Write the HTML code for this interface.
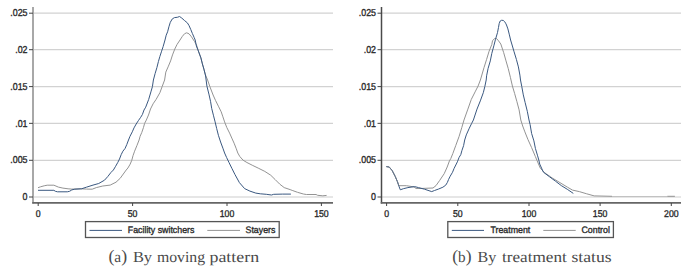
<!DOCTYPE html>
<html><head><meta charset="utf-8"><style>
html,body{margin:0;padding:0;background:#fff;}
body{width:685px;height:268px;overflow:hidden;}
svg{display:block;text-rendering:geometricPrecision;}
svg text{font-family:"Liberation Sans",sans-serif;font-size:10.0px;fill:#2a2a2a;stroke:#2a2a2a;stroke-width:0.35px;}
svg text.cap{font-family:"Liberation Serif",serif;font-size:15.4px;fill:#4a4a4a;stroke:none;}
svg text.cap tspan.par{font-size:17.8px;}
</style></head><body>
<svg width="685" height="268" viewBox="0 0 685 268">
<rect width="685" height="268" fill="#fff"/>
<line x1="33" y1="13.2" x2="333" y2="13.2" stroke="#d2d2d2" stroke-width="1.2"/>
<line x1="33" y1="49.7" x2="333" y2="49.7" stroke="#d2d2d2" stroke-width="1.2"/>
<line x1="33" y1="86.6" x2="333" y2="86.6" stroke="#d2d2d2" stroke-width="1.2"/>
<line x1="33" y1="123.35" x2="333" y2="123.35" stroke="#d2d2d2" stroke-width="1.2"/>
<line x1="33" y1="160.3" x2="333" y2="160.3" stroke="#d2d2d2" stroke-width="1.2"/>
<line x1="33" y1="197.0" x2="333" y2="197.0" stroke="#e6e6e6" stroke-width="2"/>
<polyline points="38.0,187.7 40.5,186.8 44.2,185.8 47.2,185.2 53.9,185.2 58.4,187.1 62.9,188.1 68.1,188.8 71.8,189.1 80.7,188.8 86.7,189.1 92.2,189.2 96.3,187.6 102.8,186.0 110.2,185.1 116.0,182.2 120.2,178.3 126.2,170.0 127.9,168.0 130.2,164.1 131.8,160.2 133.0,155.7 134.6,151.2 136.9,145.6 139.1,140.0 140.1,136.3 141.8,132.4 143.5,127.4 144.6,123.4 146.3,120.1 148.5,115.0 150.5,109.0 153.1,103.8 156.1,99.4 159.9,92.7 162.1,86.7 164.6,80.0 165.8,72.1 168.1,66.9 170.6,60.9 172.5,54.9 174.8,49.0 177.0,44.5 180.0,40.0 182.4,36.3 184.6,33.7 186.7,32.8 189.0,33.8 191.5,36.8 194.5,41.5 196.5,45.0 198.7,51.9 200.9,57.9 202.4,63.9 203.9,69.1 205.5,75.0 207.6,80.0 209.9,86.7 213.1,95.0 215.6,100.6 218.4,106.2 221.2,111.8 222.9,116.8 224.6,121.9 226.8,127.5 229.6,133.1 231.8,138.1 234.1,143.2 236.3,148.8 237.8,153.0 239.8,156.5 243.1,160.2 246.9,162.5 252.8,165.5 258.8,168.4 264.8,171.4 270.7,175.2 275.2,179.6 279.7,184.1 284.2,187.6 290.1,189.6 292.2,190.4 297.5,192.3 303.4,194.0 306.4,194.5 316.1,194.5 317.6,195.3 322.8,195.8 326.6,195.4" fill="none" stroke="#939393" stroke-width="1.0" stroke-linejoin="round"/>

<polyline points="38.0,190.3 53.9,190.3 55.4,191.3 57.6,191.8 67.3,191.8 69.6,191.3 71.8,189.9 74.8,189.2 81.5,188.8 86.4,187.2 93.0,185.1 98.7,183.5 104.5,180.2 107.8,176.5 111.0,172.4 113.4,170.0 115.6,166.3 117.8,162.4 119.5,159.0 121.2,154.6 122.9,151.2 125.1,148.4 126.8,144.5 128.5,140.0 130.0,136.3 132.3,131.8 134.0,127.9 136.2,124.0 138.4,120.6 140.7,117.3 142.4,114.5 144.0,110.0 145.7,107.2 148.7,99.4 150.9,91.9 152.4,86.7 153.4,80.0 155.1,73.6 156.9,67.6 158.4,61.6 159.9,56.4 161.6,51.2 163.1,46.7 165.0,40.0 166.2,35.2 167.6,31.8 168.9,26.8 170.3,22.3 172.3,18.9 174.5,17.6 177.3,17.3 179.6,16.5 181.8,18.1 184.6,20.6 187.4,22.9 189.1,25.7 190.8,29.6 192.4,33.5 194.1,37.4 195.2,40.0 196.4,46.0 198.7,51.9 200.9,57.9 202.4,63.9 203.9,69.1 205.6,76.0 206.9,86.0 209.1,94.9 210.6,101.7 211.7,108.4 213.4,115.2 215.1,121.9 216.7,128.6 218.4,135.3 220.6,142.0 222.9,148.2 224.6,153.0 226.6,157.5 229.0,162.5 231.9,168.4 234.9,174.4 239.4,182.6 244.6,188.6 249.9,191.1 255.8,193.1 260.3,193.8 266.3,194.3 271.5,195.0 273.7,194.3 282.7,194.1 290.9,194.1" fill="none" stroke="#3a5880" stroke-width="1.0" stroke-linejoin="round"/>

<line x1="33" y1="7" x2="33" y2="203.5" stroke="#a8a8a8" stroke-width="2"/>
<line x1="32.25" y1="202.9" x2="333" y2="202.9" stroke="#666" stroke-width="1.8"/>
<line x1="29" y1="13.2" x2="33" y2="13.2" stroke="#444" stroke-width="1"/>
<text transform="translate(27.50,16.10) scale(0.885,1)" text-anchor="end">.025</text>
<line x1="29" y1="49.7" x2="33" y2="49.7" stroke="#444" stroke-width="1"/>
<text transform="translate(27.50,53.30) scale(0.885,1)" text-anchor="end">.02</text>
<line x1="29" y1="86.6" x2="33" y2="86.6" stroke="#444" stroke-width="1"/>
<text transform="translate(27.50,90.00) scale(0.885,1)" text-anchor="end">.015</text>
<line x1="29" y1="123.35" x2="33" y2="123.35" stroke="#444" stroke-width="1"/>
<text transform="translate(27.50,126.95) scale(0.885,1)" text-anchor="end">.01</text>
<line x1="29" y1="160.3" x2="33" y2="160.3" stroke="#444" stroke-width="1"/>
<text transform="translate(27.50,163.20) scale(0.885,1)" text-anchor="end">.005</text>
<line x1="29" y1="197.0" x2="33" y2="197.0" stroke="#444" stroke-width="1"/>
<text transform="translate(27.50,200.10) scale(0.885,1)" text-anchor="end">0</text>
<line x1="38.2" y1="203" x2="38.2" y2="206" stroke="#444" stroke-width="1"/>
<text transform="translate(38.20,216.60) scale(0.89,1)" text-anchor="middle" style="font-size:9.8px">0</text>
<line x1="132.6" y1="203" x2="132.6" y2="206" stroke="#444" stroke-width="1"/>
<text transform="translate(132.60,216.60) scale(0.89,1)" text-anchor="middle" style="font-size:9.8px">50</text>
<line x1="227" y1="203" x2="227" y2="206" stroke="#444" stroke-width="1"/>
<text transform="translate(227.00,216.60) scale(0.89,1)" text-anchor="middle" style="font-size:9.8px">100</text>
<line x1="321.4" y1="203" x2="321.4" y2="206" stroke="#444" stroke-width="1"/>
<text transform="translate(321.40,216.60) scale(0.89,1)" text-anchor="middle" style="font-size:9.8px">150</text>
<line x1="381.5" y1="13.2" x2="681" y2="13.2" stroke="#d2d2d2" stroke-width="1.2"/>
<line x1="381.5" y1="49.7" x2="681" y2="49.7" stroke="#d2d2d2" stroke-width="1.2"/>
<line x1="381.5" y1="86.6" x2="681" y2="86.6" stroke="#d2d2d2" stroke-width="1.2"/>
<line x1="381.5" y1="123.35" x2="681" y2="123.35" stroke="#d2d2d2" stroke-width="1.2"/>
<line x1="381.5" y1="160.3" x2="681" y2="160.3" stroke="#d2d2d2" stroke-width="1.2"/>
<line x1="381.5" y1="197.0" x2="681" y2="197.0" stroke="#e6e6e6" stroke-width="2"/>
<polyline points="386.3,166.6 389.2,167.0 392.2,170.6 395.2,176.4 397.4,181.6 398.9,185.7 406.4,185.7 413.9,186.9 416.1,188.5 422.8,188.4 433.0,188.0 436.0,185.6 439.7,180.4 444.2,173.7 447.2,167.0 449.4,161.0 450.8,158.5 452.8,153.6 455.8,145.4 459.1,136.4 461.8,127.5 464.0,120.0 467.6,109.9 471.3,99.4 475.1,91.9 478.1,86.0 480.4,80.0 484.0,67.6 486.6,59.4 489.1,51.2 491.8,44.5 492.5,40.8 494.5,38.6 496.6,38.6 498.5,40.8 500.8,44.0 503.7,52.7 506.0,60.9 508.2,68.4 510.4,77.3 511.0,80.0 512.4,86.0 514.6,93.4 516.9,101.6 519.1,109.9 520.8,120.0 522.7,126.0 524.9,131.9 527.9,139.4 531.6,147.6 535.4,156.6 537.0,160.5 540.4,168.4 544.9,172.9 552.4,178.1 559.9,182.6 567.3,187.1 572.5,190.1 579.3,191.6 586.7,193.8 594.2,195.9 612.0,196.3" fill="none" stroke="#939393" stroke-width="1.0" stroke-linejoin="round"/>
<line x1="612" y1="196.5" x2="667.3" y2="196.5" stroke="#c2c2c2" stroke-width="1.2"/><line x1="667.3" y1="196.3" x2="674.9" y2="196.3" stroke="#939393" stroke-width="1.0"/>
<polyline points="386.3,166.6 389.2,167.0 392.2,170.6 395.2,176.4 397.4,181.6 398.9,186.1 400.3,189.8 403.4,188.7 407.9,187.6 414.6,186.6 418.5,187.6 424.5,189.2 431.7,191.6 434.5,190.5 438.4,189.1 442.9,187.2 445.7,185.2 447.4,182.4 448.5,179.6 450.2,176.2 452.5,172.3 454.1,168.4 455.8,165.0 457.4,161.8 459.1,157.4 460.8,154.6 461.9,150.6 463.6,145.6 464.7,140.0 466.3,134.9 469.3,128.2 471.5,123.7 473.4,120.0 477.0,109.1 480.3,100.9 483.3,92.7 484.8,86.7 486.2,80.0 486.6,75.8 488.1,68.4 490.3,60.9 491.8,53.4 494.0,45.2 495.5,39.3 497.5,32.6 498.5,27.4 499.2,23.5 500.2,21.0 501.5,20.3 503.2,20.4 504.6,21.6 505.6,23.2 506.5,25.0 507.9,28.9 509.4,34.9 510.6,40.0 512.4,46.0 513.9,51.2 516.4,59.4 518.4,66.9 519.9,75.1 520.5,80.0 521.8,86.7 523.3,94.9 525.1,102.4 527.3,111.3 529.0,120.0 530.1,124.5 531.6,133.4 533.9,140.9 535.4,148.4 537.6,155.8 538.8,160.0 539.7,164.0 543.4,172.2 549.4,176.7 555.4,181.1 561.3,185.6 567.3,189.3 573.3,193.4" fill="none" stroke="#3a5880" stroke-width="1.0" stroke-linejoin="round"/>
<polyline points="386.3,166.6 389.2,167.0 392.2,170.6 395.2,176.4 397.4,181.6 398.9,185.7" fill="none" stroke="#939393" stroke-width="1.0" stroke-opacity="0.5" stroke-linejoin="round"/>
<line x1="381.5" y1="7" x2="381.5" y2="203.5" stroke="#4a4a4a" stroke-width="1.5"/>
<line x1="380.75" y1="202.9" x2="681" y2="202.9" stroke="#666" stroke-width="1.8"/>
<line x1="377.5" y1="13.2" x2="381.5" y2="13.2" stroke="#444" stroke-width="1"/>
<text transform="translate(376.00,16.10) scale(0.885,1)" text-anchor="end">.025</text>
<line x1="377.5" y1="49.7" x2="381.5" y2="49.7" stroke="#444" stroke-width="1"/>
<text transform="translate(376.00,53.30) scale(0.885,1)" text-anchor="end">.02</text>
<line x1="377.5" y1="86.6" x2="381.5" y2="86.6" stroke="#444" stroke-width="1"/>
<text transform="translate(376.00,90.00) scale(0.885,1)" text-anchor="end">.015</text>
<line x1="377.5" y1="123.35" x2="381.5" y2="123.35" stroke="#444" stroke-width="1"/>
<text transform="translate(376.00,126.95) scale(0.885,1)" text-anchor="end">.01</text>
<line x1="377.5" y1="160.3" x2="381.5" y2="160.3" stroke="#444" stroke-width="1"/>
<text transform="translate(376.00,163.20) scale(0.885,1)" text-anchor="end">.005</text>
<line x1="377.5" y1="197.0" x2="381.5" y2="197.0" stroke="#444" stroke-width="1"/>
<text transform="translate(376.00,200.10) scale(0.885,1)" text-anchor="end">0</text>
<line x1="386.6" y1="203" x2="386.6" y2="206" stroke="#444" stroke-width="1"/>
<text transform="translate(386.60,216.60) scale(0.89,1)" text-anchor="middle" style="font-size:9.8px">0</text>
<line x1="457.8" y1="203" x2="457.8" y2="206" stroke="#444" stroke-width="1"/>
<text transform="translate(457.80,216.60) scale(0.89,1)" text-anchor="middle" style="font-size:9.8px">50</text>
<line x1="529" y1="203" x2="529" y2="206" stroke="#444" stroke-width="1"/>
<text transform="translate(529.00,216.60) scale(0.89,1)" text-anchor="middle" style="font-size:9.8px">100</text>
<line x1="600.1" y1="203" x2="600.1" y2="206" stroke="#444" stroke-width="1"/>
<text transform="translate(600.10,216.60) scale(0.89,1)" text-anchor="middle" style="font-size:9.8px">150</text>
<line x1="671.3" y1="203" x2="671.3" y2="206" stroke="#444" stroke-width="1"/>
<text transform="translate(671.30,216.60) scale(0.89,1)" text-anchor="middle" style="font-size:9.8px">200</text>

<rect x="85.5" y="221.6" width="193.7" height="15.9" fill="#fff" stroke="#555" stroke-width="1.3"/>
<line x1="89.5" y1="230.4" x2="122" y2="230.4" stroke="#3a5880" stroke-width="1.0"/>
<text transform="translate(127.80,232.80) scale(0.94,1)" text-anchor="start" style="font-size:9.4px">Facility switchers</text>
<line x1="207.3" y1="230.4" x2="240" y2="230.4" stroke="#939393" stroke-width="1.0"/>
<text transform="translate(245.50,232.80) scale(0.94,1)" text-anchor="start" style="font-size:9.4px">Stayers</text>
<rect x="447.8" y="221.6" width="165.6" height="15.9" fill="#fff" stroke="#555" stroke-width="1.3"/>
<line x1="451.8" y1="230.4" x2="484" y2="230.4" stroke="#3a5880" stroke-width="1.0"/>
<text transform="translate(490.40,232.80) scale(0.94,1)" text-anchor="start" style="font-size:9.4px">Treatment</text>
<line x1="543.3" y1="230.4" x2="575.7" y2="230.4" stroke="#939393" stroke-width="1.0"/>
<text transform="translate(581.50,232.80) scale(0.94,1)" text-anchor="start" style="font-size:9.4px">Control</text>

<text class="cap" x="108.4" y="261.8" textLength="18.7" lengthAdjust="spacingAndGlyphs"><tspan class="par">(</tspan>a<tspan class="par">)</tspan></text>
<text class="cap" x="132.9" y="261.8" textLength="19.2" lengthAdjust="spacingAndGlyphs">By</text>
<text class="cap" x="156.9" y="261.8" textLength="48.2" lengthAdjust="spacingAndGlyphs">moving</text>
<text class="cap" x="209.5" y="261.8" textLength="49.6" lengthAdjust="spacingAndGlyphs">pattern</text>
<text class="cap" x="452.3" y="261.8" textLength="19.2" lengthAdjust="spacingAndGlyphs"><tspan class="par">(</tspan>b<tspan class="par">)</tspan></text>
<text class="cap" x="477.6" y="261.8" textLength="18.8" lengthAdjust="spacingAndGlyphs">By</text>
<text class="cap" x="502.0" y="261.8" textLength="64.8" lengthAdjust="spacingAndGlyphs">treatment</text>
<text class="cap" x="571.5" y="261.8" textLength="40.2" lengthAdjust="spacingAndGlyphs">status</text>
</svg>
</body></html>
